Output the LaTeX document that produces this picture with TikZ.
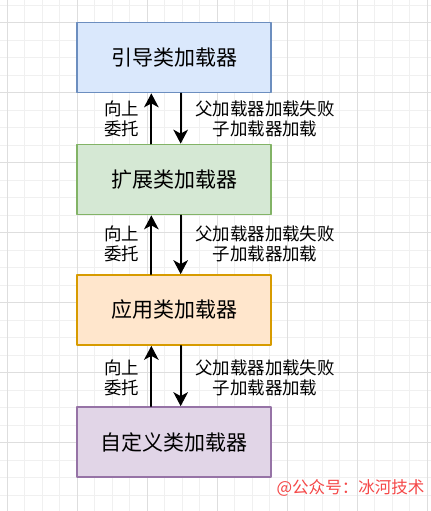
\documentclass[tikz,border=0pt]{standalone}
\usepackage{fontspec}
\setmainfont{Noto Sans CJK SC}
\usetikzlibrary{arrows.meta}

\definecolor{bootfill}{HTML}{DAE8FC}
\definecolor{bootline}{HTML}{6C8EBF}
\definecolor{extfill}{HTML}{D5E8D4}
\definecolor{extline}{HTML}{82B366}
\definecolor{appfill}{HTML}{FFE6CC}
\definecolor{appline}{HTML}{D79B00}
\definecolor{userfill}{HTML}{E1D5E7}
\definecolor{userline}{HTML}{9673A6}
\definecolor{gridminor}{RGB}{240,240,240}
\definecolor{gridmajor}{RGB}{222,222,222}
\definecolor{markred}{RGB}{245,72,72}

\tikzset{
    loaderbox/.style={draw, line width=1.3pt, minimum width=145pt, minimum height=52.5pt,
        inner sep=0pt, font=\fontsize{15.75}{18}\selectfont},
    flowarrow/.style={line width=1.3pt, -{Stealth[length=10.5pt,width=11pt,inset=3pt]}},
    steplabel/.style={align=center, inner sep=0pt, font=\fontsize{13.1}{15}\selectfont}
}

\begin{document}
\begin{tikzpicture}[x=0.75pt,y=-0.75pt,line cap=round,line join=round]
        \useasboundingbox (0,0) rectangle (431,511);
        \fill[white] (0,0) rectangle (431,511);

        % background grid
        \foreach \k in {0,...,24}
            \draw[gridminor,line width=0.6pt] (7.3+17.5*\k,0) -- (7.3+17.5*\k,511);
        \foreach \k in {0,...,29}
            \draw[gridminor,line width=0.6pt] (0,5.2+17.5*\k) -- (431,5.2+17.5*\k);
        \foreach \k in {0,...,6}
            \draw[gridmajor,line width=0.6pt] (7.3+70*\k,0) -- (7.3+70*\k,511);
        \foreach \k in {0,...,7}
            \draw[gridmajor,line width=0.6pt] (0,22.7+70*\k) -- (431,22.7+70*\k);

        % loaders
        \node[loaderbox,fill=bootfill,draw=bootline] (boot) at (174,57.5) {引导类加载器};
        \node[loaderbox,fill=extfill,draw=extline] (ext) at (174,179.5) {扩展类加载器};
        \node[loaderbox,fill=appfill,draw=appline] (app) at (174,310) {应用类加载器};
        \node[loaderbox,fill=userfill,draw=userline] (user) at (174,442) {自定义类加载器};

        % delegation arrows
        \draw[flowarrow] ([xshift=-17pt]ext.north) -- ([xshift=-17pt]boot.south);
        \draw[flowarrow] ([xshift=5pt]boot.south) -- ([xshift=5pt]ext.north);
        \draw[flowarrow] ([xshift=-17pt]app.north) -- ([xshift=-17pt]ext.south);
        \draw[flowarrow] ([xshift=5pt]ext.south) -- ([xshift=5pt]app.north);
        \draw[flowarrow] ([xshift=-17pt]user.north) -- ([xshift=-17pt]app.south);
        \draw[flowarrow] ([xshift=5pt]app.south) -- ([xshift=5pt]user.north);

        % labels
        \node[steplabel] (upA) at (121.7,119) {向上\\委托};
        \node[steplabel] (failA) at (265,119) {父加载器加载失败\\子加载器加载};
        \node[steplabel] (upB) at (121.7,243.5) {向上\\委托};
        \node[steplabel] (failB) at (265,243.5) {父加载器加载失败\\子加载器加载};
        \node[steplabel] (upC) at (121.7,377.5) {向上\\委托};
        \node[steplabel] (failC) at (265,377.5) {父加载器加载失败\\子加载器加载};

        \node[text=markred,inner sep=0pt,font=\fontsize{12.4}{14}\selectfont] (mark) at (350.5,488) {@公众号：冰河技术};
    \end{tikzpicture}
\end{document}
